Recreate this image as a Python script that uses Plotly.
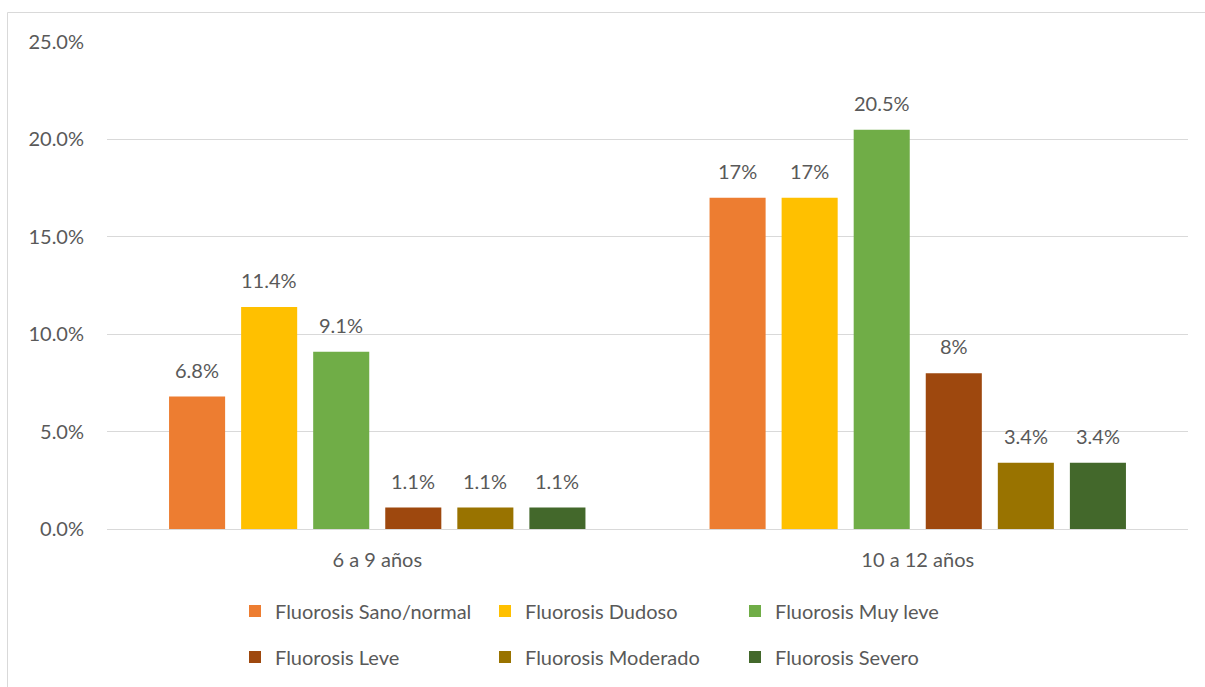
import plotly.graph_objects as go

# Age groups (x categories)
age_groups = ["6 a 9 años", "10 a 12 años"]

# Fluorosis severity series
series_names = [
    "Fluorosis Sano/normal",
    "Fluorosis Dudoso",
    "Fluorosis Muy leve",
    "Fluorosis Leve",
    "Fluorosis Moderado",
    "Fluorosis Severo",
]
sano_normal = [6.8, 17]
dudoso = [11.4, 17]
muy_leve = [9.1, 20.5]
leve = [1.1, 8]
moderado = [1.1, 3.4]
severo = [1.1, 3.4]

# Data labels as printed above each bar
sano_normal_labels = ["6.8%", "17%"]
dudoso_labels = ["11.4%", "17%"]
muy_leve_labels = ["9.1%", "20.5%"]
leve_labels = ["1.1%", "8%"]
moderado_labels = ["1.1%", "3.4%"]
severo_labels = ["1.1%", "3.4%"]

# Y-axis ticks
y_ticks = [0, 5, 10, 15, 20, 25]
y_tick_labels = ["0.0%", "5.0%", "10.0%", "15.0%", "20.0%", "25.0%"]

colors = ["#ED7D31", "#FFC000", "#70AD47", "#9E480E", "#997300", "#43682B"]
values = [sano_normal, dudoso, muy_leve, leve, moderado, severo]
labels = [sano_normal_labels, dudoso_labels, muy_leve_labels,
          leve_labels, moderado_labels, severo_labels]

FONT = "Lato"
TEXT_COLOR = "#595959"
GRID = "#D9D9D9"
BARGAP = 0.2

fig = go.Figure()
for k, (name, vals, col) in enumerate(zip(series_names, values, colors)):
    fig.add_trace(go.Bar(
        x=age_groups, y=vals, name=name, marker_color=col,
        marker_line_width=0,
        legend="legend" if k < 3 else "legend2",
    ))

# Value labels above each bar, positioned at the bar centre in the group
n = len(series_names)
slot = (1 - BARGAP) / n
annotations = []
for k, labs in enumerate(labels):
    for i, (lab, v) in enumerate(zip(labs, values[k])):
        annotations.append(dict(
            x=i + (k - (n - 1) / 2) * slot, y=v, xref="x", yref="y",
            text=lab, showarrow=False, yanchor="bottom", yshift=13,
            font=dict(family=FONT, size=20, color=TEXT_COLOR),
        ))

L, R, T, B = 107, 17, 42, 158
W, H = 1205, 687
pw, ph = W - L - R, H - T - B

def px_x(x):
    return (x - L) / pw

def px_y(y):
    return (H - B - y) / ph

legend_common = dict(
    orientation="h", xanchor="left", yanchor="middle",
    font=dict(family=FONT, size=20, color=TEXT_COLOR),
    entrywidth=205, entrywidthmode="pixels",
    bgcolor="rgba(0,0,0,0)", itemclick=False, traceorder="normal",
)

fig.update_layout(
    width=W, height=H,
    margin=dict(l=L, r=R, t=T, b=B, autoexpand=False),
    paper_bgcolor="white", plot_bgcolor="white",
    barmode="group", bargap=BARGAP, bargroupgap=0.222,
    font=dict(family=FONT, size=20, color=TEXT_COLOR),
    xaxis=dict(
        type="category", showgrid=False, showline=False, zeroline=False,
        ticks="", ticklabelstandoff=17, automargin=False,
        tickfont=dict(family=FONT, size=20, color=TEXT_COLOR),
    ),
    yaxis=dict(
        range=[0, 25], tickvals=y_ticks, ticktext=y_tick_labels,
        showgrid=True, gridcolor=GRID, gridwidth=1,
        zeroline=True, zerolinecolor=GRID, zerolinewidth=1,
        showline=False, ticks="", ticklabelstandoff=22, automargin=False,
        tickfont=dict(family=FONT, size=20, color=TEXT_COLOR),
    ),
    legend=dict(x=px_x(235), y=px_y(611), **legend_common),
    legend2=dict(x=px_x(235), y=px_y(657), **legend_common),
    annotations=annotations,
    shapes=[dict(
        type="rect", xref="paper", yref="paper",
        x0=px_x(7.5), x1=px_x(1215), y0=px_y(697), y1=px_y(12.5),
        line=dict(color=GRID, width=1), fillcolor="rgba(0,0,0,0)",
        layer="below",
    )],
    showlegend=True,
)

fig.write_html("out.html")
